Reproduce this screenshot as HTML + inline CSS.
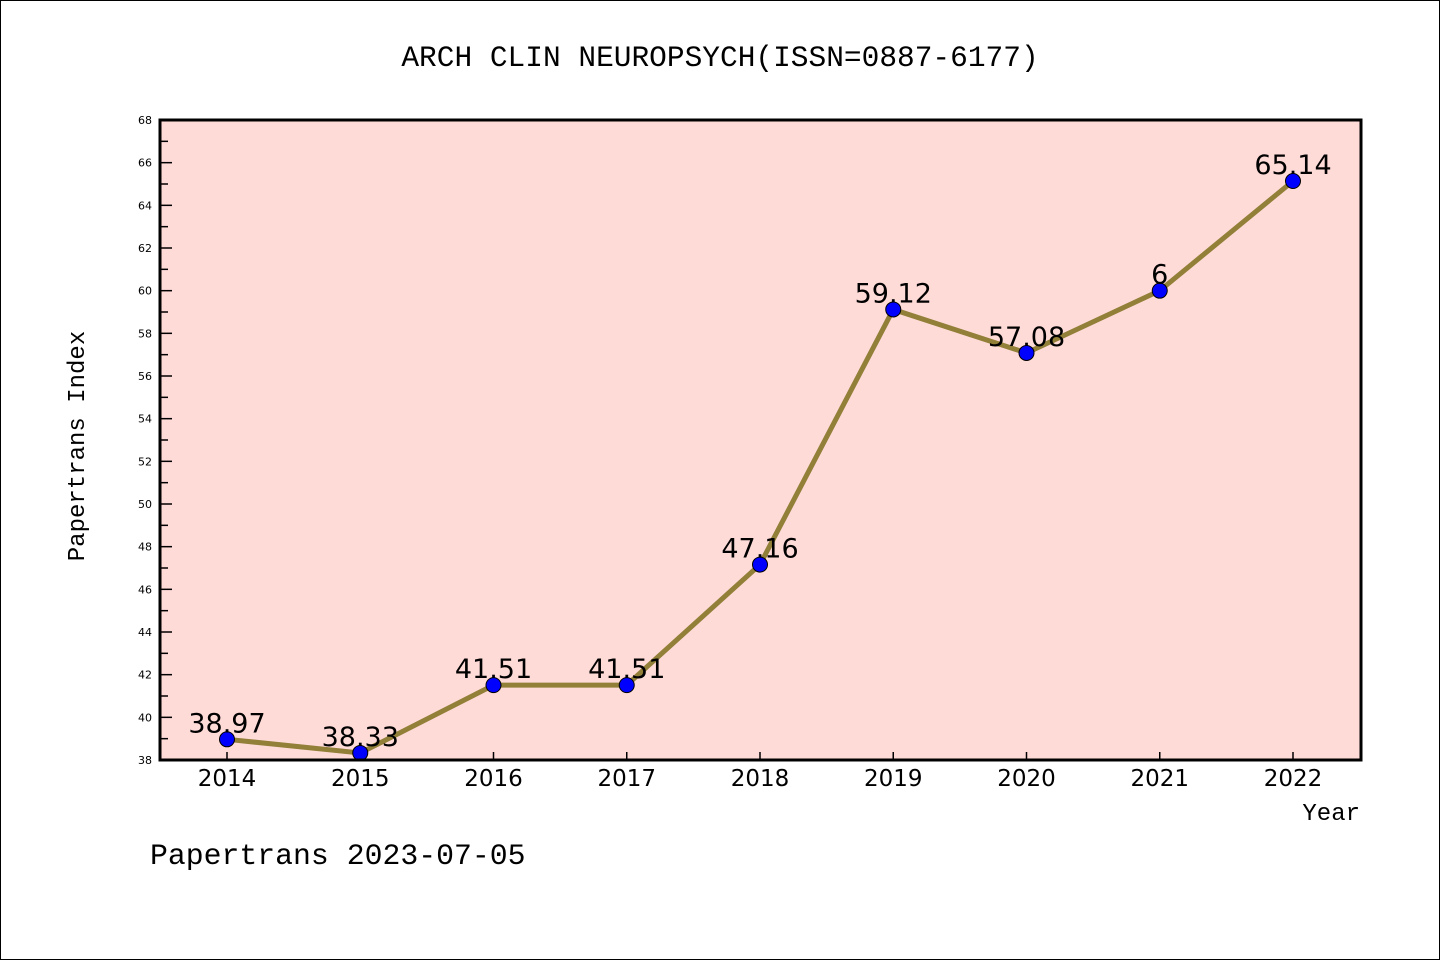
<!DOCTYPE html>
<html><head><meta charset="utf-8"><style>
html,body{margin:0;padding:0;background:#fff;}
svg{display:block;font-family:"Liberation Sans","DejaVu Sans",sans-serif;}
</style></head><body>
<svg id="chart" width="1440" height="960">
<rect x="0.5" y="0.5" width="1439" height="959" fill="#fff" stroke="#000"/>
<text x="720" y="66" text-anchor="middle" font-size="29.5" font-family="Liberation Mono, monospace">ARCH CLIN NEUROPSYCH(ISSN=0887-6177)</text>
<rect x="160" y="120" width="1201" height="640" fill="#ffdbd8"/>
<g id="yaxis"></g>
<g id="xaxis"></g>
<g id="series"></g>
<rect x="160" y="120" width="1201" height="640" fill="none" stroke="#000" stroke-width="3"/>
<text transform="translate(84,446) rotate(-90)" text-anchor="middle" font-size="24" font-family="Liberation Mono, monospace">Papertrans Index</text>
<text x="1360" y="820" text-anchor="end" font-size="24" font-family="Liberation Mono, monospace">Year</text>
<text x="150" y="864" font-size="29.8" font-family="Liberation Mono, monospace">Papertrans 2023-07-05</text>
</svg>
<script>
const years = ["2014","2015","2016","2017","2018","2019","2020","2021","2022"];
const values = [38.97,38.33,41.51,41.51,47.16,59.12,57.08,60,65.14];
const valueLabels = ["38.97","38.33","41.51","41.51","47.16","59.12","57.08","6","65.14"];
const yTicks = [38,40,42,44,46,48,50,52,54,56,58,60,62,64,66,68];
const NS="http://www.w3.org/2000/svg";
const yMin=38,yMax=68,plotTop=120,plotBot=760;
const yS=v=>plotBot-(v-yMin)/(yMax-yMin)*(plotBot-plotTop);
const xS=i=>227+i*(1293-227)/(years.length-1);
function mk(t,a,p){const e=document.createElementNS(NS,t);for(const k in a)e.setAttribute(k,a[k]);p.appendChild(e);return e;}
const ya=document.getElementById('yaxis');
yTicks.forEach((t,i)=>{
  const tk=mk('line',{x1:160,x2:172,y1:yS(t),y2:yS(t),stroke:'#000','stroke-width':1.5},ya);
  
  
  const lb=mk('text',{x:152,y:yS(t)+4,'text-anchor':'end','font-size':11,'font-family':'DejaVu Sans, sans-serif'},ya);
  lb.textContent=t;
  
  
  if(i<yTicks.length-1){
    const m=mk('line',{x1:160,x2:168,y1:yS(t+1),y2:yS(t+1),stroke:'#000','stroke-width':1.5},ya);
    
    
  }
});
const xa=document.getElementById('xaxis');
years.forEach((yr,i)=>{
  const tk=mk('line',{x1:xS(i),x2:xS(i),y1:760,y2:752,stroke:'#000','stroke-width':1.5},xa);
  
  
  const lb=mk('text',{x:xS(i),y:786,'text-anchor':'middle','font-size':23,'font-family':'DejaVu Sans, sans-serif'},xa);
  lb.textContent=yr;
  
  
});
const s=document.getElementById('series');
const pl=mk('polyline',{points:values.map((v,i)=>xS(i)+','+yS(v)).join(' '),fill:'none',stroke:'#927f38','stroke-width':5},s);


values.forEach((v,i)=>{
  const c=mk('circle',{cx:xS(i),cy:yS(v),r:7.5,fill:'#0000ff',stroke:'#000','stroke-width':1},s);
  
  
  const t=mk('text',{x:xS(i),y:yS(v)-7,'text-anchor':'middle','font-size':27,'font-family':'DejaVu Sans, sans-serif'},s);
  t.textContent=valueLabels[i];
  
  
});
</script>
</body></html>
